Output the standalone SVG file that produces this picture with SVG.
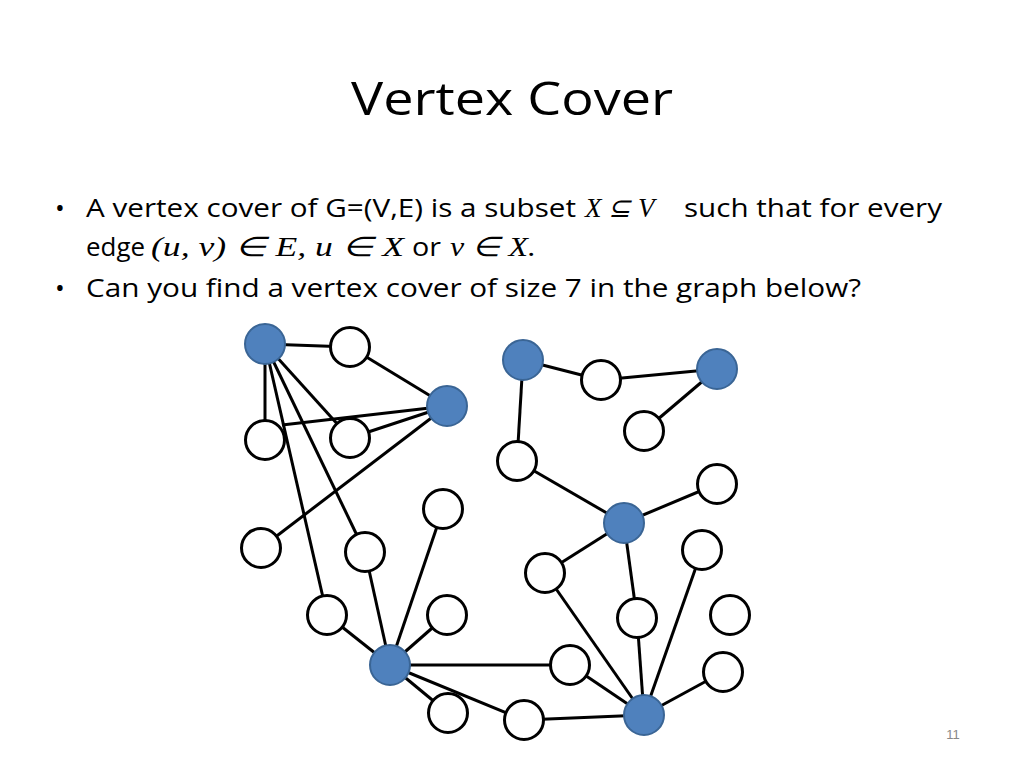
<svg xmlns="http://www.w3.org/2000/svg" width="1024" height="768" viewBox="0 0 1024 768">
<style>
.t{font-family:"Open Sans","Liberation Sans",sans-serif;font-size:26px;fill:#000}
.m{font-family:"Liberation Serif",serif;font-size:27px;font-style:italic;fill:#000}
.w{fill:#fff;stroke:#000;stroke-width:3}
.b{fill:#4f81bd;stroke:#3a6595;stroke-width:2}
#edges line{stroke:#000;stroke-width:3}
</style>
<rect width="1024" height="768" fill="#fff"/>
<text x="512" y="115" text-anchor="middle" font-family="Open Sans,Liberation Sans,sans-serif" font-size="46" textLength="322" lengthAdjust="spacingAndGlyphs">Vertex Cover</text>
<text x="55" y="217" class="t">•</text>
<text x="86" y="217" class="t" textLength="490" lengthAdjust="spacingAndGlyphs">A vertex cover of G=(V,E) is a subset</text>
<text x="585" y="217" class="m">X ⊆ V</text>
<text x="684" y="217" class="t" textLength="258" lengthAdjust="spacingAndGlyphs">such that for every</text>
<text x="86" y="256" class="t" textLength="59" lengthAdjust="spacingAndGlyphs">edge</text>
<text x="151" y="256" class="m" textLength="253" lengthAdjust="spacingAndGlyphs">(u, v) ∈ E, u ∈ X</text>
<text x="412" y="256" class="t" textLength="29" lengthAdjust="spacingAndGlyphs">or</text>
<text x="450" y="256" class="m" textLength="86" lengthAdjust="spacingAndGlyphs">v ∈ X.</text>
<text x="55" y="297" class="t">•</text>
<text x="86" y="297" class="t" textLength="775" lengthAdjust="spacingAndGlyphs">Can you find a vertex cover of size 7 in the graph below?</text>
<text x="953" y="739" text-anchor="middle" font-family="Liberation Sans,sans-serif" font-size="13" fill="#888">11</text>
<g id="edges">
<line x1="265" y1="344" x2="350" y2="347"/>
<line x1="350" y1="347" x2="447" y2="406"/>
<line x1="265" y1="344" x2="265" y2="440"/>
<line x1="282" y1="425" x2="447" y2="406"/>
<line x1="350" y1="438" x2="447" y2="406"/>
<line x1="265" y1="344" x2="350" y2="438"/>
<line x1="265" y1="344" x2="327" y2="615"/>
<line x1="265" y1="344" x2="365" y2="552"/>
<line x1="261" y1="548" x2="447" y2="406"/>
<line x1="365" y1="552" x2="390" y2="665"/>
<line x1="327" y1="615" x2="390" y2="665"/>
<line x1="443" y1="509" x2="390" y2="665"/>
<line x1="447" y1="615" x2="390" y2="665"/>
<line x1="448" y1="713" x2="390" y2="665"/>
<line x1="570" y1="665" x2="390" y2="665"/>
<line x1="524" y1="720" x2="390" y2="665"/>
<line x1="523" y1="360" x2="601" y2="380"/>
<line x1="601" y1="380" x2="717" y2="369"/>
<line x1="644" y1="431" x2="717" y2="369"/>
<line x1="523" y1="360" x2="517" y2="461"/>
<line x1="517" y1="461" x2="624" y2="523"/>
<line x1="624" y1="523" x2="717" y2="484"/>
<line x1="624" y1="523" x2="545" y2="573"/>
<line x1="624" y1="523" x2="637" y2="618"/>
<line x1="637" y1="618" x2="644" y2="715"/>
<line x1="545" y1="573" x2="644" y2="715"/>
<line x1="702" y1="550" x2="644" y2="715"/>
<line x1="723" y1="672" x2="644" y2="715"/>
<line x1="570" y1="665" x2="644" y2="715"/>
<line x1="524" y1="720" x2="644" y2="715"/>
</g>
<g id="n1"><circle cx="265" cy="344" r="20" class="b"/></g>
<g id="n2"><circle cx="447" cy="406" r="20" class="b"/></g>
<g id="n3"><circle cx="523" cy="360" r="20" class="b"/></g>
<g id="n4"><circle cx="717" cy="369" r="20" class="b"/></g>
<g id="n5"><circle cx="624" cy="523" r="20" class="b"/></g>
<g id="n6"><circle cx="390" cy="665" r="20" class="b"/></g>
<g id="n7"><circle cx="644" cy="715" r="20" class="b"/></g>
<g id="w1"><circle cx="350" cy="347" r="19.5" class="w"/></g>
<g id="w2"><circle cx="265" cy="440" r="19.5" class="w"/></g>
<g id="w3"><circle cx="350" cy="438" r="19.5" class="w"/></g>
<g id="w4"><circle cx="261" cy="548" r="19.5" class="w"/></g>
<g id="w5"><circle cx="443" cy="509" r="19.5" class="w"/></g>
<g id="w6"><circle cx="365" cy="552" r="19.5" class="w"/></g>
<g id="w7"><circle cx="327" cy="615" r="19.5" class="w"/></g>
<g id="w8"><circle cx="447" cy="615" r="19.5" class="w"/></g>
<g id="w9"><circle cx="448" cy="713" r="19.5" class="w"/></g>
<g id="w10"><circle cx="524" cy="720" r="19.5" class="w"/></g>
<g id="w11"><circle cx="570" cy="665" r="19.5" class="w"/></g>
<g id="w12"><circle cx="601" cy="380" r="19.5" class="w"/></g>
<g id="w13"><circle cx="644" cy="431" r="19.5" class="w"/></g>
<g id="w14"><circle cx="517" cy="461" r="19.5" class="w"/></g>
<g id="w15"><circle cx="717" cy="484" r="19.5" class="w"/></g>
<g id="w16"><circle cx="545" cy="573" r="19.5" class="w"/></g>
<g id="w17"><circle cx="702" cy="550" r="19.5" class="w"/></g>
<g id="w18"><circle cx="637" cy="618" r="19.5" class="w"/></g>
<g id="w19"><circle cx="730" cy="615" r="19.5" class="w"/></g>
<g id="w20"><circle cx="723" cy="672" r="19.5" class="w"/></g>
</svg>
